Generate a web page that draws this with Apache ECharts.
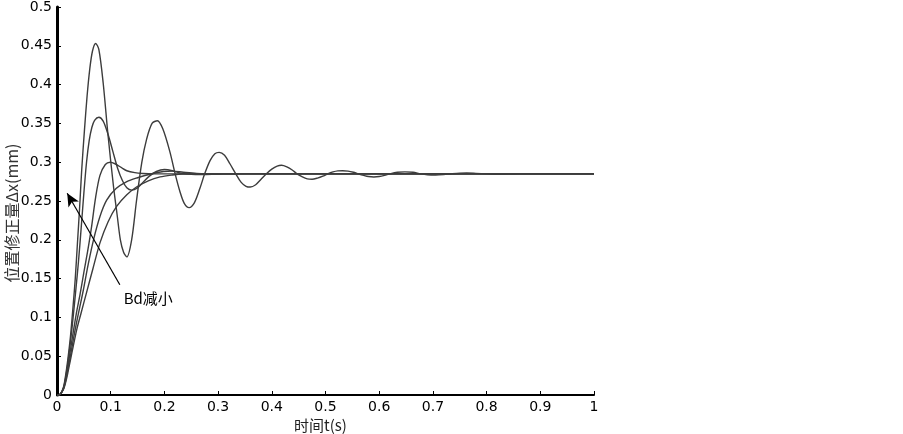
<!DOCTYPE html>
<html>
<head>
<meta charset="utf-8">
<script src="https://cdn.jsdelivr.net/npm/echarts@6/dist/echarts.min.js"></script>
<style>
  html, body { margin: 0; padding: 0; background: #fff; }
  #chart { width: 903px; height: 434px; }
</style>
</head>
<body>
<div id="chart"></div>
<script>
// step responses, [t (s), dx (mm)]
const curveA = [
  [0, 0], [0.006, 0.001], [0.012, 0.01], [0.016, 0.025], [0.02, 0.045], [0.025, 0.075],
  [0.03, 0.115], [0.034, 0.15], [0.038, 0.195], [0.042, 0.24], [0.046, 0.29], [0.051, 0.34],
  [0.056, 0.385], [0.061, 0.42], [0.066, 0.443], [0.072, 0.453], [0.078, 0.445], [0.086, 0.402],
  [0.095, 0.335], [0.105, 0.27], [0.112, 0.232], [0.118, 0.2], [0.124, 0.184], [0.13, 0.178],
  [0.139, 0.2], [0.148, 0.25], [0.158, 0.3], [0.167, 0.33], [0.177, 0.35], [0.187, 0.3535],
  [0.197, 0.343], [0.21, 0.314], [0.22, 0.285], [0.229, 0.262], [0.237, 0.247], [0.246, 0.2415],
  [0.256, 0.248], [0.266, 0.266], [0.275, 0.285], [0.285, 0.302], [0.294, 0.311], [0.302, 0.3127],
  [0.312, 0.309], [0.322, 0.298], [0.333, 0.285], [0.343, 0.274], [0.352, 0.269], [0.36, 0.268],
  [0.37, 0.271], [0.38, 0.278], [0.39, 0.285], [0.4, 0.291], [0.41, 0.295], [0.418, 0.296],
  [0.428, 0.294], [0.438, 0.29], [0.447, 0.285], [0.457, 0.281], [0.466, 0.2785], [0.475, 0.278],
  [0.485, 0.2795], [0.495, 0.282], [0.504, 0.285], [0.514, 0.2875], [0.523, 0.2888], [0.532, 0.289],
  [0.542, 0.2885], [0.552, 0.287], [0.561, 0.285], [0.571, 0.283], [0.58, 0.2815], [0.59, 0.281],
  [0.6, 0.2815], [0.61, 0.283], [0.62, 0.285], [0.634, 0.287], [0.648, 0.2875], [0.663, 0.287],
  [0.677, 0.285], [0.69, 0.2838], [0.705, 0.2835], [0.72, 0.284], [0.735, 0.285], [0.75, 0.2858],
  [0.763, 0.286], [0.78, 0.2856], [0.8, 0.285], [0.82, 0.2845], [0.84, 0.2846], [0.86, 0.285],
  [0.9, 0.2852], [0.95, 0.285], [1, 0.285]
];
const curveB = [
  [0, 0], [0.006, 0.001], [0.012, 0.009], [0.016, 0.022], [0.02, 0.04], [0.025, 0.068],
  [0.03, 0.1], [0.035, 0.135], [0.04, 0.172], [0.045, 0.215], [0.05, 0.26], [0.055, 0.3],
  [0.06, 0.328], [0.065, 0.345], [0.07, 0.354], [0.078, 0.358], [0.086, 0.353], [0.095, 0.336],
  [0.104, 0.314], [0.113, 0.292], [0.122, 0.276], [0.13, 0.267], [0.139, 0.264], [0.15, 0.267],
  [0.16, 0.274], [0.172, 0.282], [0.185, 0.288], [0.2, 0.2905], [0.215, 0.289], [0.23, 0.286],
  [0.25, 0.2843], [0.27, 0.284], [0.3, 0.2845], [0.35, 0.285], [1, 0.285]
];
const curveC = [
  [0, 0], [0.006, 0.001], [0.012, 0.008], [0.016, 0.02], [0.02, 0.036], [0.025, 0.058],
  [0.03, 0.08], [0.036, 0.105], [0.043, 0.13], [0.05, 0.158], [0.057, 0.185], [0.064, 0.215],
  [0.072, 0.255], [0.08, 0.283], [0.09, 0.297], [0.099, 0.3], [0.108, 0.298], [0.12, 0.293],
  [0.13, 0.289], [0.145, 0.2865], [0.16, 0.2855], [0.18, 0.285], [1, 0.285]
];
const curveD = [
  [0, 0], [0.006, 0.001], [0.012, 0.008], [0.016, 0.018], [0.02, 0.032], [0.025, 0.05],
  [0.03, 0.07], [0.036, 0.092], [0.042, 0.112], [0.049, 0.135], [0.058, 0.168], [0.068, 0.2],
  [0.08, 0.23], [0.0925, 0.251], [0.11, 0.266], [0.13, 0.275], [0.15, 0.28], [0.173, 0.2845],
  [0.198, 0.288], [0.215, 0.2885], [0.235, 0.287], [0.26, 0.2855], [0.3, 0.285], [1, 0.285]
];
const curveE = [
  [0, 0], [0.006, 0.001], [0.012, 0.007], [0.016, 0.016], [0.02, 0.028], [0.025, 0.045],
  [0.03, 0.062], [0.037, 0.085], [0.045, 0.106], [0.055, 0.132], [0.067, 0.163], [0.08, 0.196],
  [0.095, 0.223], [0.111, 0.243], [0.13, 0.258], [0.148, 0.268], [0.17, 0.276], [0.192, 0.281],
  [0.215, 0.2835], [0.235, 0.2848], [0.27, 0.2852], [0.3, 0.285], [1, 0.285]
];
const curves = [curveA, curveB, curveC, curveD, curveE];

// annotation (data coordinates)
const arrowTail = [0.117, 0.142];
const arrowHead = [0.019, 0.26];
const noteAt = [0.17, 0.124];
const noteText = 'Bd减小';

const chart = echarts.init(document.getElementById('chart'));

const series = curves.map((c) => ({
  type: 'line',
  data: c,
  smooth: 0.3,
  showSymbol: false,
  silent: true,
  lineStyle: { color: '#3c3c3c', width: 1.4 }
}));

// arrow + text ride on the last series
series[4].markLine = {
  silent: true,
  symbol: ['none', 'arrow'],
  symbolSize: [9, 13],
  label: { show: false },
  lineStyle: { color: '#000', width: 1.2, type: 'solid' },
  data: [[{ coord: arrowTail }, { coord: arrowHead }]]
};
series[4].markPoint = {
  silent: true,
  symbol: 'circle',
  symbolSize: 1,
  itemStyle: { color: 'rgba(0,0,0,0)' },
  label: {
    show: true,
    position: 'inside',
    formatter: noteText,
    color: '#000',
    fontSize: 15,
    fontFamily: 'Noto Sans CJK SC'
  },
  data: [{ coord: noteAt }]
};

const axisLabel = { color: '#000', fontSize: 14, fontFamily: 'DejaVu Sans' };

chart.setOption({
  animation: false,
  backgroundColor: '#fff',
  grid: { left: 57, right: 309, top: 7, bottom: 39, outerBoundsMode: 'none', containLabel: false },
  xAxis: {
    type: 'value',
    min: 0, max: 1, interval: 0.1,
    name: '时间t(s)',
    nameLocation: 'middle',
    nameGap: 23,
    nameMoveOverlap: false,
    nameTextStyle: { color: '#222', fontSize: 15, fontFamily: 'Noto Sans CJK SC', padding: [0, 10, 0, 0] },
    axisLine: { lineStyle: { color: '#000', width: 2 } },
    axisTick: { inside: true, length: 4, lineStyle: { color: '#000' } },
    axisLabel: Object.assign({ margin: 5 }, axisLabel),
    splitLine: { show: false }
  },
  yAxis: {
    type: 'value',
    min: 0, max: 0.5, interval: 0.05,
    name: '位置修正量Δx(mm)',
    nameLocation: 'middle',
    nameRotate: 90,
    nameGap: 37,
    nameMoveOverlap: false,
    nameTextStyle: { color: '#333', fontSize: 16, fontFamily: 'Noto Sans CJK SC', padding: [0, 24, 0, 0] },
    axisLine: { show: true, lineStyle: { color: '#000', width: 3 } },
    axisTick: { show: true, inside: true, length: 4, lineStyle: { color: '#000' } },
    axisLabel: Object.assign({ margin: 5 }, axisLabel),
    splitLine: { show: false }
  },
  series: series
});
</script>
</body>
</html>
